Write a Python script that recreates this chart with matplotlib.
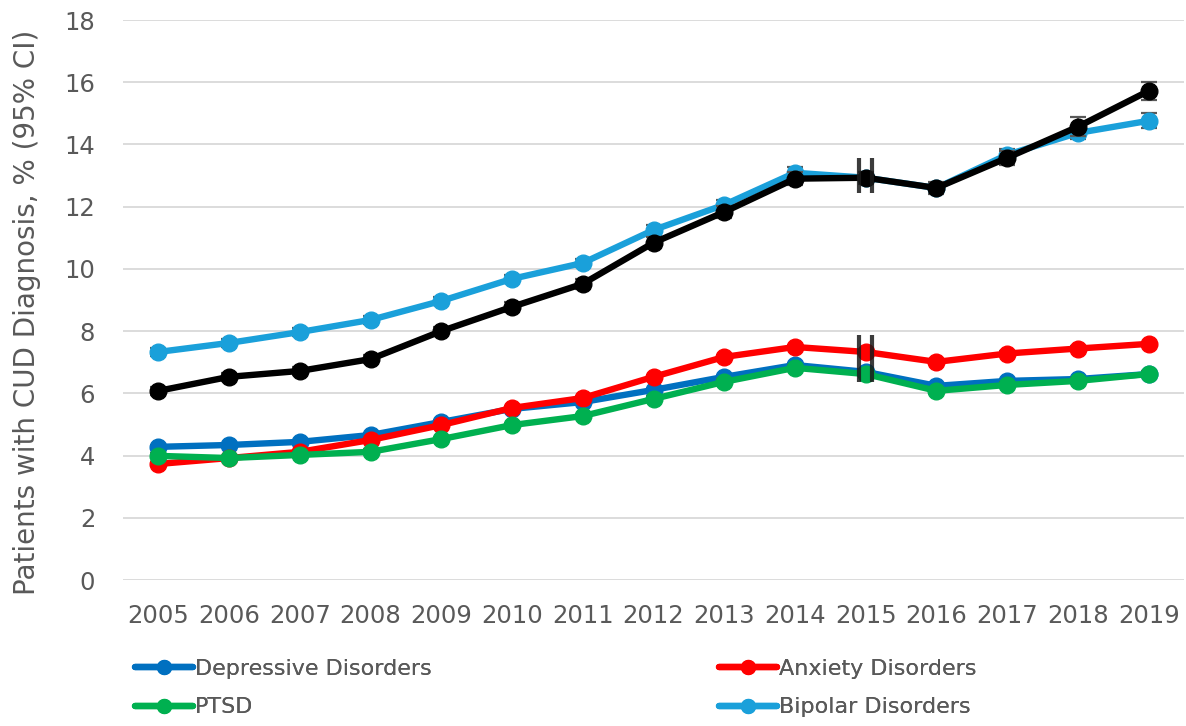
import matplotlib
matplotlib.use('Agg')
import matplotlib.pyplot as plt
from matplotlib.lines import Line2D


years = ['2005', '2006', '2007', '2008', '2009', '2010', '2011', '2012',
         '2013', '2014', '2015', '2016', '2017', '2018', '2019']

depressive = [4.28, 4.34, 4.44, 4.66, 5.08, 5.50, 5.72, 6.11, 6.53, 6.91, 6.69, 6.24, 6.40, 6.46, 6.62]
anxiety = [3.73, 3.92, 4.12, 4.50, 4.98, 5.53, 5.85, 6.53, 7.17, 7.49, 7.33, 7.01, 7.28, 7.44, 7.59]
ptsd = [3.99, 3.92, 4.02, 4.12, 4.53, 4.98, 5.27, 5.82, 6.37, 6.82, 6.62, 6.08, 6.27, 6.40, 6.62]
bipolar = [7.33, 7.62, 7.97, 8.36, 8.97, 9.68, 10.19, 11.25, 12.06, 13.09, 12.93, 12.60, 13.67, 14.37, 14.76]
overall = [6.08, 6.53, 6.72, 7.10, 8.00, 8.78, 9.52, 10.84, 11.83, 12.90, 12.93, 12.60, 13.57, 14.57, 15.72]

# half-width of the 95% CI
depressive_err = [0.06, 0.06, 0.06, 0.06, 0.06, 0.06, 0.06, 0.06, 0.06, 0.07, 0.07, 0.07, 0.07, 0.07, 0.07]
anxiety_err = [0.06, 0.06, 0.06, 0.06, 0.06, 0.06, 0.06, 0.06, 0.07, 0.07, 0.07, 0.07, 0.07, 0.07, 0.07]
ptsd_err = [0.08, 0.08, 0.08, 0.08, 0.08, 0.08, 0.08, 0.08, 0.08, 0.09, 0.09, 0.09, 0.09, 0.09, 0.09]
bipolar_err = [0.12, 0.12, 0.12, 0.13, 0.13, 0.13, 0.14, 0.15, 0.16, 0.17, 0.17, 0.17, 0.19, 0.21, 0.24]
overall_err = [0.12, 0.12, 0.13, 0.13, 0.14, 0.15, 0.16, 0.17, 0.18, 0.20, 0.20, 0.20, 0.23, 0.30, 0.29]

series = [
    ('Depressive Disorders', depressive, depressive_err, '#0070C0'),
    ('Anxiety Disorders', anxiety, anxiety_err, '#FF0000'),
    ('PTSD', ptsd, ptsd_err, '#00B050'),
    ('Bipolar Disorders', bipolar, bipolar_err, '#1AA0DA'),
    ('_overall', overall, overall_err, '#000000'),
]

break_year = '2015'
break_spans = [(12.44, 13.56), (6.37, 7.88)]

text_col = '#595959'

fig = plt.figure(figsize=(11.86, 7.26), dpi=100)
ax = fig.add_axes([123 / 1186, 1 - 580 / 726, 1061 / 1186, 560 / 726])

x = list(range(len(years)))
for i, (name, vals, err, col) in enumerate(series):
    ax.errorbar(x, vals, yerr=err, fmt='none', ecolor=text_col, elinewidth=1.2,
                capsize=5.5, capthick=1.6, zorder=2 + i)
    ax.plot(x, vals, color=col, lw=4.6, marker='o', ms=12, zorder=3 + i,
            solid_capstyle='round')

# axis break marks at 2015
bx = years.index(break_year)
for lo, hi in break_spans:
    for dx in (-0.09, 0.09):
        ax.plot([bx + dx, bx + dx], [lo, hi], color='#1a1a1a', lw=3, alpha=0.85,
                solid_capstyle='butt', zorder=20)

ax.set_xlim(-0.5, len(years) - 0.5)
ax.set_ylim(0, 18)
ax.set_yticks(range(0, 19, 2))
ax.set_xticks(x)
ax.set_xticklabels(years)
ax.tick_params(axis='both', length=0, labelsize=17.5, labelcolor=text_col)
ax.tick_params(axis='y', pad=20)
ax.tick_params(axis='x', pad=17)
ax.grid(axis='y', color='#D9D9D9', lw=1.3)
ax.set_axisbelow(True)
for s in ax.spines.values():
    s.set_visible(False)

fig.text(27 / 1186, 1 - 312 / 726, 'Patients with CUD Diagnosis, % (95% CI)',
         rotation=90, ha='center', va='center', fontsize=20, color=text_col)

def handle(col):
    return Line2D([], [], color=col, lw=4.6, marker='o', ms=10, solid_capstyle='round')

cols = [[series[0], series[2]], [series[1], series[3]]]
for xpix, group in zip([135, 719], cols):
    leg = fig.legend([handle(c) for _, _, _, c in group], [n for n, _, _, _ in group],
                     loc='center left', bbox_to_anchor=(xpix / 1186, 1 - 688 / 726),
                     frameon=False, fontsize=16, handlelength=2.6, handletextpad=0.1,
                     borderpad=0, borderaxespad=0, labelspacing=0.85, labelcolor=text_col)
    fig.add_artist(leg)

fig.savefig('out.png', dpi=100)
